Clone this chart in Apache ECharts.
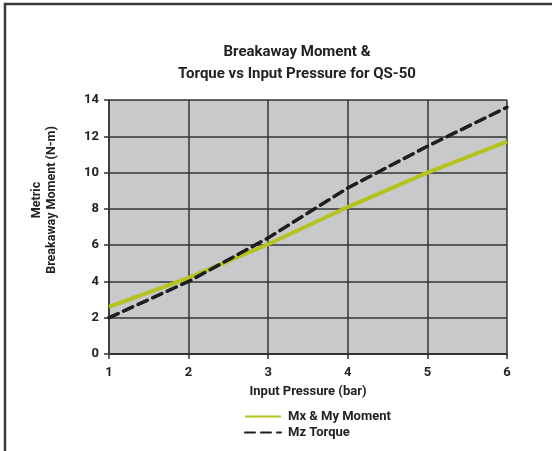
<!DOCTYPE html>
<html>
<head>
    <meta charset="utf-8">
    <title>Breakaway Moment & Torque vs Input Pressure for QS-50</title>
    <script src="https://cdn.jsdelivr.net/npm/echarts@6/dist/echarts.min.js"></script>
    <style>
        body { margin: 0; background: #fff; }
        #main { width: 552px; height: 451px; }
    </style>
</head>
<body>
    <div id="main"></div>
<script>
// input pressure (bar)
const pressure = [1, 2, 3, 4, 5, 6];
// Mx & My moment (N-m)
const momentMxMy = [2.6, 4.2, 6.05, 8.1, 10.0, 11.7];
// Mz torque (N-m)
const torqueMz = [2.0, 4.0, 6.4, 9.15, 11.45, 13.6];

const fontFam = 'Roboto, "Liberation Sans", sans-serif';
const textCol = '#222';

const option = {
    backgroundColor: '#fff',
    animation: false,
    title: {
        text: 'Breakaway Moment &\nTorque vs Input Pressure for QS-50',
        left: 292,
        textAlign: 'center',
        top: 36,
        textStyle: { fontFamily: fontFam, fontSize: 15, fontWeight: 'bold', color: textCol, lineHeight: 22 }
    },
    grid: { left: 109, right: 45, top: 100, bottom: 97 },
    legend: {
        orient: 'vertical',
        left: 239,
        top: 405,
        itemWidth: 36,
        itemHeight: 10,
        itemGap: 3,
        itemStyle: { opacity: 0 },
        textStyle: { fontFamily: fontFam, fontSize: 13, fontWeight: 'bold', color: textCol, padding: [0, 0, 0, 2] },
        data: ['Mx & My Moment', 'Mz Torque']
    },
    xAxis: {
        type: 'value',
        min: 1,
        max: 6,
        interval: 1,
        name: 'Input Pressure (bar)',
        nameLocation: 'middle',
        nameGap: 31,
        nameTextStyle: { fontFamily: fontFam, fontSize: 13, fontWeight: 'bold', color: textCol },
        axisLine: { show: true, lineStyle: { color: '#333', width: 2 } },
        axisTick: { show: true, length: 5, lineStyle: { color: '#333', width: 1.5 } },
        axisLabel: { fontFamily: fontFam, fontSize: 13, fontWeight: 'bold', color: textCol, margin: 12 },
        splitLine: { show: true, lineStyle: { color: '#333', width: 1.5 } }
    },
    yAxis: {
        type: 'value',
        min: 0,
        max: 14,
        interval: 2,
        axisLine: { show: true, lineStyle: { color: '#333', width: 1.5 } },
        axisTick: { show: true, length: 5, lineStyle: { color: '#333', width: 1.5 } },
        axisLabel: { fontFamily: fontFam, fontSize: 13, fontWeight: 'bold', color: textCol, margin: 10 },
        splitLine: { show: true, lineStyle: { color: '#333', width: 1.5 } },
        splitArea: { show: true, areaStyle: { color: ['#c8c9cb', '#c8c9cb'] } }
    },
    graphic: [
        {
            type: 'rect',
            shape: { x: 5, y: 4, width: 600, height: 500 },
            style: { fill: 'none', stroke: '#3a3a3a', lineWidth: 2.5 },
            silent: true
        },
        {
            type: 'text',
            x: 44,
            y: 200,
            rotation: Math.PI / 2,
            style: {
                text: 'Metric\nBreakaway Moment (N-m)',
                align: 'center',
                verticalAlign: 'middle',
                lineHeight: 15,
                fontFamily: fontFam,
                fontSize: 12.5,
                fontWeight: 'bold',
                fill: textCol
            }
        }
    ],
    series: [
        {
            name: 'Mx & My Moment',
            type: 'line',
            symbol: 'none',
            data: pressure.map((p, i) => [p, momentMxMy[i]]),
            lineStyle: { color: '#b4c31e', width: 4 },
            itemStyle: { color: '#b4c31e' }
        },
        {
            name: 'Mz Torque',
            type: 'line',
            symbol: 'none',
            data: pressure.map((p, i) => [p, torqueMz[i]]),
            lineStyle: { color: '#1e1e1e', width: 3.5, type: [10, 6], cap: 'round' },
            itemStyle: { color: '#1e1e1e' }
        }
    ]
};

const chart = echarts.init(document.getElementById('main'));
chart.setOption(option);
</script>
</body>
</html>
